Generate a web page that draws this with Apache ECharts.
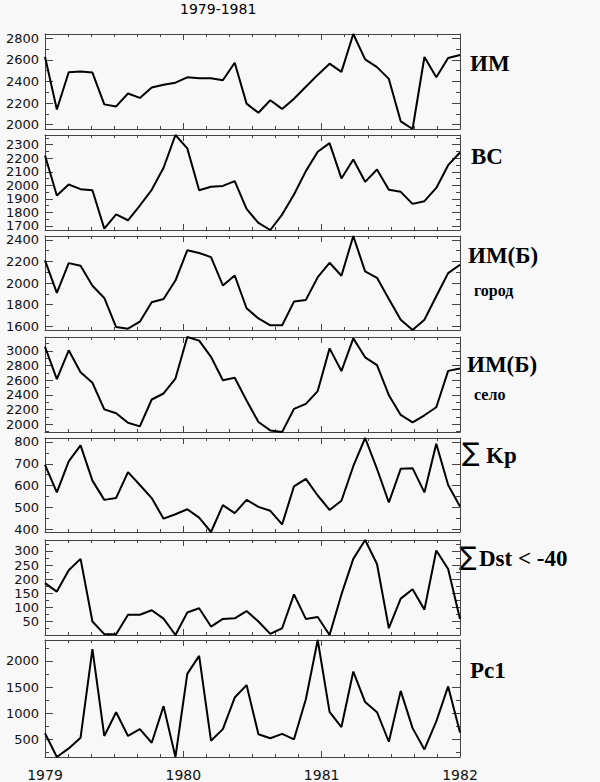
<!DOCTYPE html>
<html><head><meta charset="utf-8">
<script src="https://cdn.jsdelivr.net/npm/echarts@6/dist/echarts.min.js"></script>
<style>html,body{margin:0;padding:0;background:#f8f8f8}#c{width:600px;height:782px}</style>
</head><body><div id="c"></div>
<script>
// ---- data (36 points spread over 1979..1982) ----
const im = [2630,2140,2486,2492,2483,2188,2169,2289,2248,2345,2370,2389,2439,2430,2430,2411,2574,2195,2110,2226,2146,2240,2351,2461,2565,2489,2840,2605,2533,2424,2031,1960,2627,2439,2618,2646];
const bc = [2221,1925,2006,1972,1964,1680,1786,1742,1851,1967,2130,2372,2273,1964,1989,1996,2031,1826,1722,1670,1784,1932,2105,2248,2312,2051,2191,2026,2117,1967,1952,1863,1883,1981,2149,2243];
const imbCity = [2210,1908,2185,2160,1974,1861,1590,1575,1640,1821,1852,2023,2304,2279,2241,1977,2070,1765,1670,1607,1607,1827,1843,2054,2188,2067,2437,2107,2048,1852,1659,1563,1659,1877,2092,2170];
const imbVillage = [3057,2615,3009,2710,2566,2203,2151,2020,1972,2338,2420,2623,3190,3141,2920,2600,2635,2324,2032,1917,1895,2210,2279,2453,3035,2726,3171,2913,2806,2397,2128,2027,2123,2233,2728,2760];
const kp = [695,569,711,784,623,535,544,662,603,543,449,469,492,454,388,511,474,535,503,485,423,597,631,555,489,531,689,818,677,523,677,680,569,792,603,505];
const dst = [186,156,232,272,50,5,5,74,74,90,60,2,82,97,32,59,61,87,50,6,26,146,59,66,2,146,272,339,254,26,131,164,92,302,236,59];
const pc1 = [617,161,325,531,2226,564,1018,564,695,434,1135,161,1753,2097,473,695,1299,1538,597,519,603,500,1266,2401,1026,734,1797,1213,1018,453,1427,714,305,843,1513,629];

const pointIndex = Array.from({length: im.length}, (_, i) => String(i));
const years = [1979, 1980, 1981, 1982];

// tick labels per panel and minor tick steps
const imTicks = [2000,2200,2400,2600,2800];
const bcTicks = [1700,1800,1900,2000,2100,2200,2300];
const cityTicks = [1600,1800,2000,2200,2400];
const villageTicks = [2000,2200,2400,2600,2800,3000];
const kpTicks = [400,500,600,700,800];
const dstTicks = [50,100,150,200,250,300];
const pc1Ticks = [500,1000,1500,2000];
const minorSteps = [100,50,100,100,50,25,250];

const title = '1979-1981';
const panelNames = ['ИМ','ВС','ИМ(Б)','ИМ(Б)','Kp','Dst < -40','Pc1'];
const panelSub = ['','','город','село','','',''];
const sumSign = '∑';

// ---- layout ----
const series = [im, bc, imbCity, imbVillage, kp, dst, pc1];
const ticks = [imTicks, bcTicks, cityTicks, villageTicks, kpTicks, dstTicks, pc1Ticks];
const layout = [
  {top:34,h:95},{top:135,h:95},{top:236,h:94},{top:337,h:95},
  {top:438,h:94},{top:540,h:95},{top:640,h:117}
];
const frame = '#444';
const labelFont = 'DejaVu Sans';

const grids = [], xAxes = [], yAxes = [], ser = [];
series.forEach((d, g) => {
  const L = layout[g];
  grids.push({left:45, width:415, top:L.top, height:L.h, containLabel:false});
  const mn = Math.min(...d), mx = Math.max(...d);
  const minor = [];
  const st = minorSteps[g];
  for (let v = Math.ceil(mn/st)*st; v <= mx; v += st) minor.push(v);
  xAxes.push({gridIndex:g, type:'category', data:pointIndex, boundaryGap:false, show:false});
  const xCommon = (pos, showLab) => ({
    gridIndex:g, type:'value', position:pos, min:years[0], max:years[years.length-1], interval:1,
    axisLine:{show:true, onZero:false, lineStyle:{color:frame, width:1}},
    axisTick:{show:true, inside:true, length:6, lineStyle:{color:frame}},
    minorTick:{show:true, splitNumber:6, length:3, lineStyle:{color:frame}},
    splitLine:{show:false}, minorSplitLine:{show:false},
    axisLabel:{show:showLab, margin:11, fontFamily:labelFont, fontSize:14, color:'#111', formatter:v=>String(v)}
  });
  xAxes.push(xCommon('bottom', g === series.length-1));
  xAxes.push(xCommon('top', false));
  const yCommon = (pos, vals, len, line, lab) => ({
    gridIndex:g, type:'value', position:pos, min:mn, max:mx,
    axisLine:{show:line, onZero:false, lineStyle:{color:frame, width:1}},
    axisTick:{show:true, inside:true, length:len, customValues:vals, lineStyle:{color:frame}},
    axisLabel:{show:lab, customValues:vals, margin:6, fontFamily:labelFont, fontSize:13, lineHeight:11,
      color:'#111', formatter:v=>String(v)},
    splitLine:{show:false}
  });
  yAxes.push(yCommon('left', ticks[g], 8, true, true));
  yAxes.push(yCommon('left', minor, 4, false, false));
  yAxes.push(yCommon('right', ticks[g], 8, true, false));
  yAxes.push(yCommon('right', minor, 4, false, false));
  ser.push({type:'line', xAxisIndex:3*g, yAxisIndex:4*g, data:d, symbol:'none',
    lineStyle:{color:'#000', width:2}, silent:true, clip:false});
});

const serif = '"Liberation Serif", "Times New Roman", serif';
const txt = (x, y, text, size, bold, fam) => ({type:'text', x, y, silent:true,
  style:{text, fill:'#000', font:(bold?'bold ':'') + size + 'px ' + (fam||serif), verticalAlign:'middle', align:'left'}});
const graphic = [
  txt(180, 9, title, 14, false, '"DejaVu Sans"'),
  txt(470, 63, panelNames[0], 23, true),
  txt(471, 156, panelNames[1], 23, true),
  txt(468, 255, panelNames[2], 23, true),
  txt(474, 290, panelSub[2], 16, true),
  txt(467, 364, panelNames[3], 23, true),
  txt(474, 394, panelSub[3], 16, true),
  txt(462, 452, sumSign, 26, false, '"DejaVu Sans"'),
  txt(486, 455, panelNames[4], 23, true),
  txt(459, 556, sumSign, 26, false, '"DejaVu Sans"'),
  txt(479, 558, panelNames[5], 23, true),
  txt(470, 670, panelNames[6], 23, true)
];

const chart = echarts.init(document.getElementById('c'), null, {renderer:'svg'});
chart.setOption({
  backgroundColor:'#f8f8f8', animation:false,
  grid:grids, xAxis:xAxes, yAxis:yAxes, series:ser, graphic
});
</script></body></html>
